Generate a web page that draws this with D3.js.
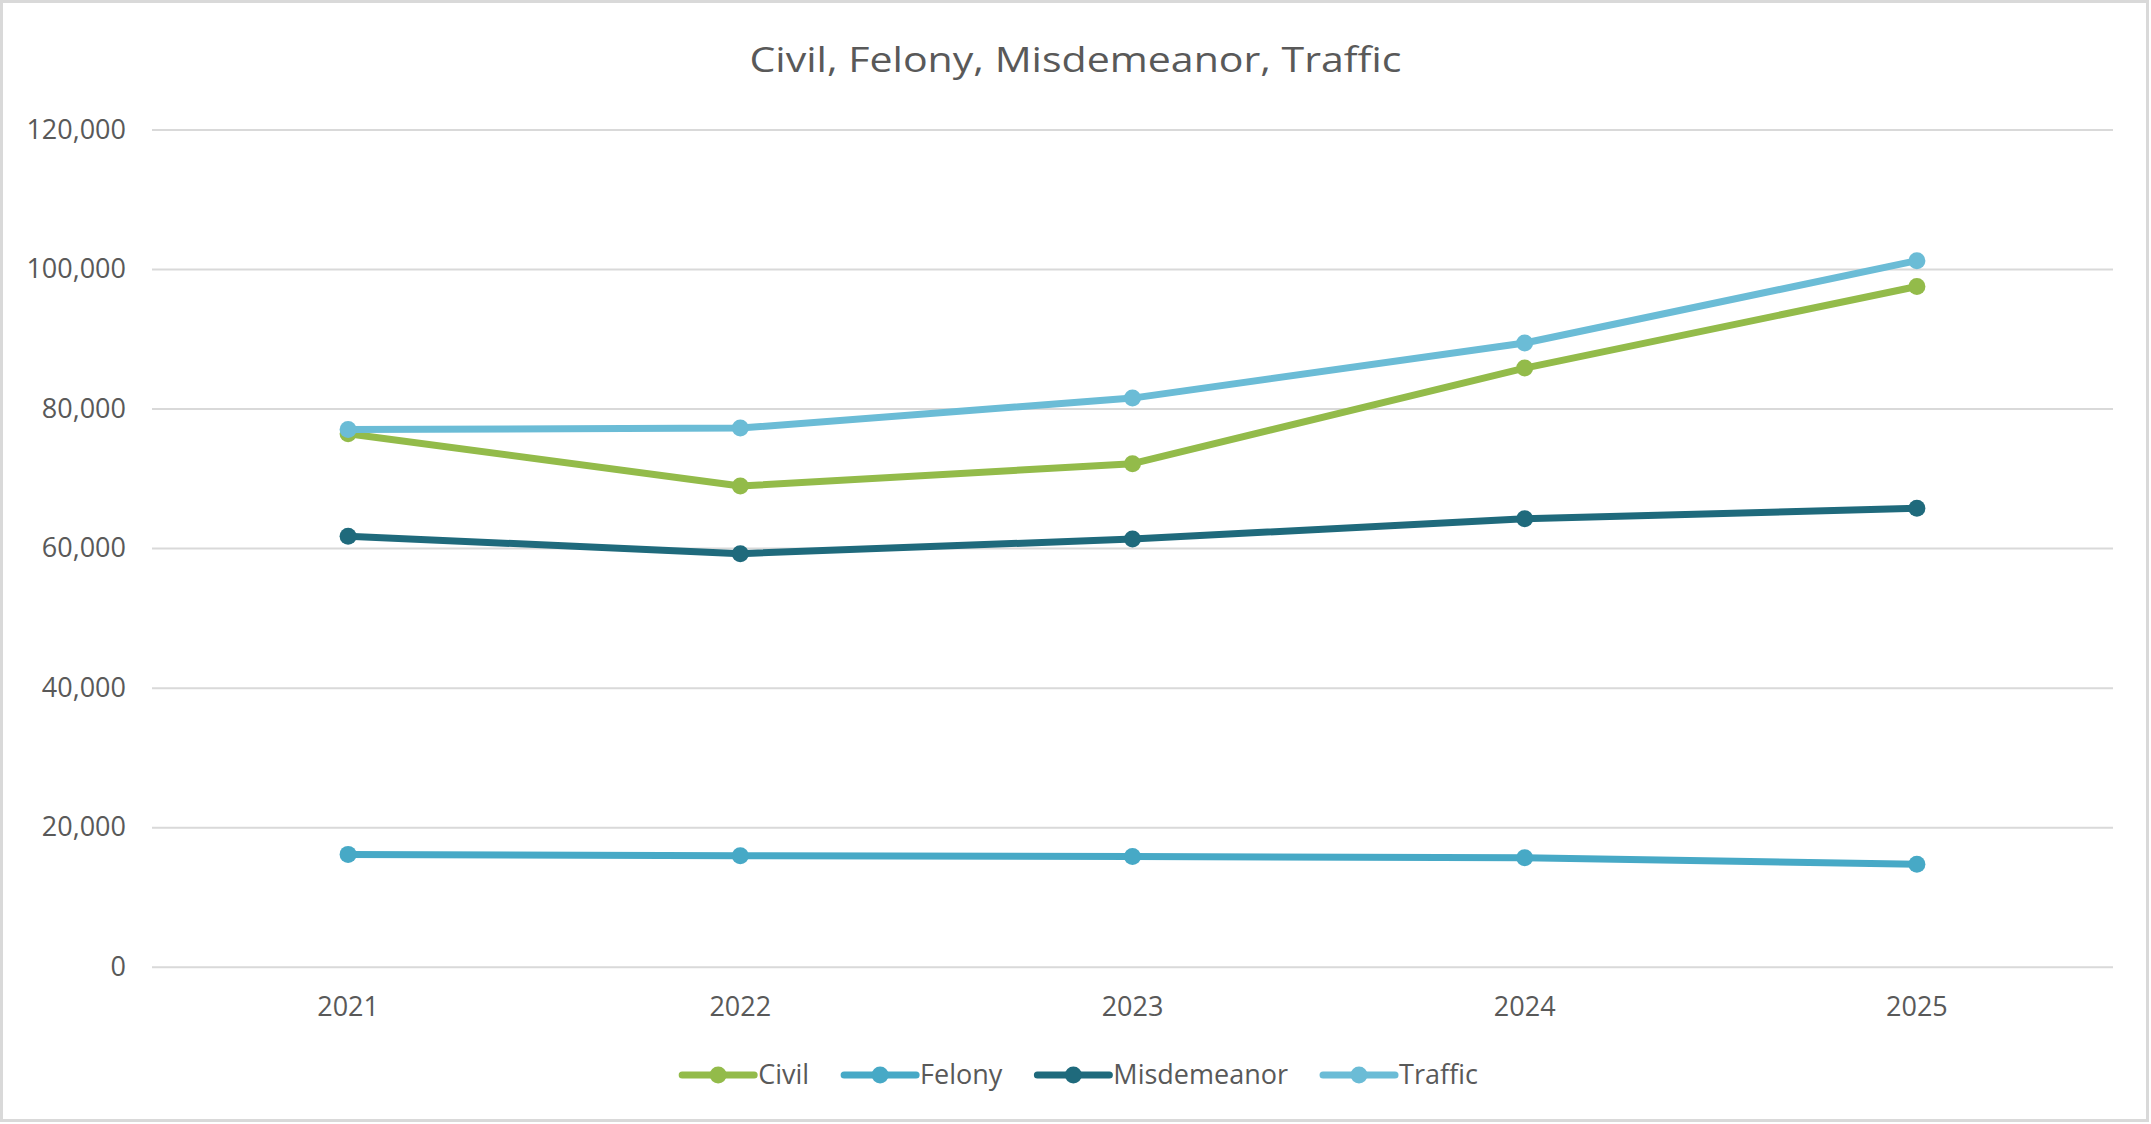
<!DOCTYPE html>
<html>
<head>
<meta charset="utf-8">
<script src="https://cdn.jsdelivr.net/npm/d3@7"></script>
<style>
  html, body { margin: 0; padding: 0; background: #fff; }
  svg { display: block; }
  text { font-family: "Open Sans", "Liberation Sans", sans-serif; }
</style>
</head>
<body>
<svg id="chart" width="2151" height="1124"></svg>
<script>
const title = "Civil, Felony, Misdemeanor, Traffic";
const years = ["2021", "2022", "2023", "2024", "2025"];
const seriesNames = ["Civil", "Felony", "Misdemeanor", "Traffic"];
const civil       = [76400, 68900, 72100, 85800, 97500];
const felony      = [16100, 15900, 15800, 15600, 14700];
const misdemeanor = [61700, 59200, 61300, 64200, 65700];
const traffic     = [77000, 77200, 81500, 89400, 101200];
const yTicks = [0, 20000, 40000, 60000, 80000, 100000, 120000];
const colors = ["#93BB4A", "#47A9C6", "#1F6A7C", "#6BBCD6"];

const seriesValues = [civil, felony, misdemeanor, traffic];
const series = seriesNames.map((name, i) => ({
  name, color: colors[i],
  values: years.map((y, j) => ({ year: y, value: seriesValues[i][j] }))
}));

const W = 2151, H = 1124;
const svg = d3.select("#chart");

svg.append("rect").attr("x", 0).attr("y", 0).attr("width", W).attr("height", H).attr("fill", "#fff");
svg.append("rect").attr("x", 1.5).attr("y", 1.5).attr("width", W - 5).attr("height", H - 5)
  .attr("fill", "none").attr("stroke", "#d9d9d9").attr("stroke-width", 3);

const plot = { left: 152, right: 2113, top: 129.5, bottom: 966.7 };

const x = d3.scaleBand().domain(years).range([plot.left, plot.right]).padding(0);
const y = d3.scaleLinear().domain([0, 120000]).range([plot.bottom, plot.top]);

svg.append("text")
  .attr("x", 1075.5).attr("y", 72)
  .attr("text-anchor", "middle")
  .attr("font-size", 35)
  .attr("fill", "#595959")
  .attr("textLength", 652)
  .attr("lengthAdjust", "spacingAndGlyphs")
  .text(title);

const yAxisGrid = d3.axisLeft(y).tickValues(yTicks).tickSize(-(plot.right - plot.left)).tickFormat("");
const gGrid = svg.append("g").attr("transform", `translate(${plot.left},0)`).call(yAxisGrid);
gGrid.select(".domain").remove();
gGrid.selectAll("line").attr("stroke", "#d9d9d9").attr("stroke-width", 2);

const yAxis = d3.axisLeft(y).tickValues(yTicks).tickSize(0).tickPadding(0)
  .tickFormat(d3.format(","));
const gY = svg.append("g").attr("transform", `translate(126,0)`).call(yAxis);
gY.select(".domain").remove();
gY.selectAll("text")
  .attr("font-size", 27)
  .attr("fill", "#595959")
  .attr("font-family", "'Open Sans', sans-serif");

const xAxis = d3.axisBottom(x).tickSize(0).tickPadding(0);
const gX = svg.append("g").attr("transform", `translate(0,${plot.bottom + 30})`).call(xAxis);
gX.select(".domain").remove();
gX.selectAll("text")
  .attr("font-size", 27)
  .attr("fill", "#595959")
  .attr("font-family", "'Open Sans', sans-serif");

const line = d3.line()
  .x(d => x(d.year) + x.bandwidth() / 2)
  .y(d => y(d.value));

const gS = svg.append("g");
series.forEach(s => {
  const g = gS.append("g");
  g.append("path")
    .datum(s.values)
    .attr("d", line)
    .attr("fill", "none")
    .attr("stroke", s.color)
    .attr("stroke-width", 7)
    .attr("stroke-linejoin", "round")
    .attr("stroke-linecap", "round");
  g.selectAll("circle")
    .data(s.values)
    .join("circle")
    .attr("cx", d => x(d.year) + x.bandwidth() / 2)
    .attr("cy", d => y(d.value))
    .attr("r", 8.5)
    .attr("fill", s.color);
});

const legend = svg.append("g");
const lineLen = 72, textGap = 4, itemGap = 35, legY = 1075;
const items = series.map(s => {
  const g = legend.append("g");
  g.append("line").attr("x1", 0).attr("x2", lineLen).attr("y1", 0).attr("y2", 0)
    .attr("stroke", s.color).attr("stroke-width", 7).attr("stroke-linecap", "round");
  g.append("circle").attr("cx", lineLen / 2).attr("cy", 0).attr("r", 8.5).attr("fill", s.color);
  const t = g.append("text").attr("x", lineLen + textGap).attr("y", 0).attr("dy", "0.35em")
    .attr("font-size", 27).attr("fill", "#595959").text(s.name);
  const w = lineLen + textGap + t.node().getComputedTextLength();
  return { g, w };
});
const total = d3.sum(items, d => d.w) + itemGap * (items.length - 1);
let cx = 1080 - total / 2;
items.forEach(it => {
  it.g.attr("transform", `translate(${cx},${legY})`);
  cx += it.w + itemGap;
});
</script>
</body>
</html>
